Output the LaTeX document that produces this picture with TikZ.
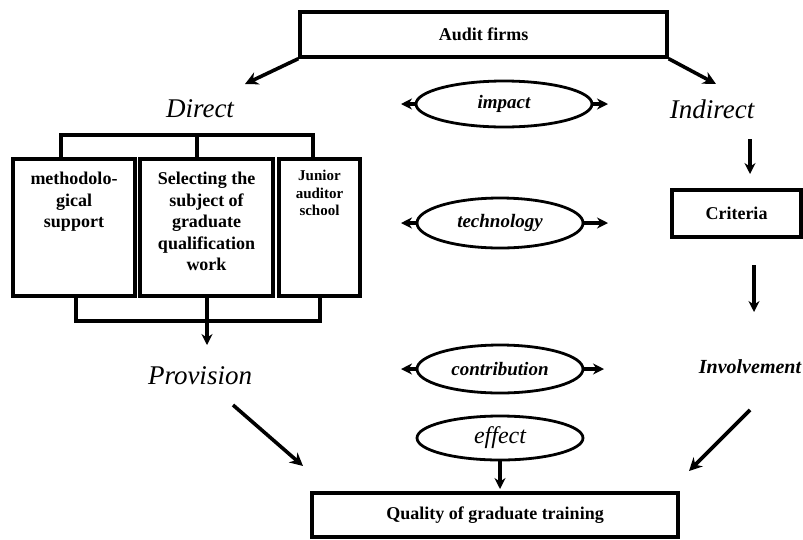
\documentclass[tikz,border=0pt]{standalone}
\usepackage{fontspec}
\setmainfont{Liberation Serif}
\usetikzlibrary{arrows.meta,shapes.geometric}
\begin{document}
\begin{tikzpicture}[x=1pt,y=-1pt,
  box/.style={draw,line width=3.4pt,inner sep=0pt,rectangle},
  oval/.style={draw,ellipse,line width=2.8pt,inner sep=0pt},
  arr/.style={line width=3.6pt,-{Stealth[length=13pt,width=13pt]}},
  sarr/.style={line width=3.2pt,-{Stealth[length=11pt,width=11pt]}},
  bk/.style={line width=3.6pt},
  big/.style={font=\fontsize{27}{30}\selectfont\itshape},
  lab/.style={font=\fontsize{18}{21}\selectfont\bfseries},
  olab/.style={font=\fontsize{19}{22}\selectfont\bfseries\itshape}]
\useasboundingbox (0,0) rectangle (803,539);

% top box
\node[box,lab,minimum width=367pt,minimum height=45pt] (audit) at (483.5,34.5) {Audit firms};
\coordinate (dtip) at (245,84);
\coordinate (itip) at (716,84);
\draw[arr] (audit.south west) -- (dtip);
\draw[arr] (audit.south east) -- (itip);

% Direct / Indirect
\node[big,anchor=base] (direct) at (200,117) {Direct};
\node[big,anchor=base] (indirect) at (712,118) {Indirect};

% ellipses
\node[oval,olab,minimum width=176pt,minimum height=46pt] (impact) at (504,104) {impact};
\node[oval,olab,minimum width=166pt,minimum height=50pt] (tech) at (500,223) {technology};
\node[oval,olab,minimum width=166pt,minimum height=48pt] (contr) at (500,369) {contribution};
\node[oval,minimum width=166pt,minimum height=44pt,font=\fontsize{24}{26}\selectfont\itshape] (effect) at (500,438) {effect};

\coordinate (impL) at (401,104); \coordinate (impR) at (608,104);
\coordinate (tecL) at (401,223); \coordinate (tecR) at (608,223);
\coordinate (conL) at (401,369); \coordinate (conR) at (604,369);
\draw[sarr] (impact.west) -- (impL);
\draw[sarr] (impact.east) -- (impR);
\draw[sarr] (tech.west) -- (tecL);
\draw[sarr] (tech.east) -- (tecR);
\draw[sarr] (contr.west) -- (conL);
\draw[sarr] (contr.east) -- (conR);

% three boxes
\node[box,minimum width=122pt,minimum height=137pt] (b1) at (74,227.5) {};
\node[box,minimum width=133pt,minimum height=137pt] (b2) at (206.5,227.5) {};
\node[box,minimum width=81pt,minimum height=137pt] (b3) at (319.5,227.5) {};
\node[anchor=north,inner sep=0pt,align=center,font=\fontsize{18}{21.5}\selectfont\bfseries] (t1) at (74,172) {methodolo-\\gical\\support};
\node[anchor=north,inner sep=0pt,align=center,font=\fontsize{18}{21.5}\selectfont\bfseries] (t2) at (206.5,172) {Selecting the\\subject of\\graduate\\qualification\\work};
\node[anchor=north,inner sep=0pt,align=center,font=\fontsize{15}{17.5}\selectfont\bfseries] (t3) at (319.5,170) {Junior\\auditor\\school};

% top bracket
\coordinate (tb) at (197,135);
\draw[bk] (b1.north -| 61,0) |- (tb) -| (b3.north -| 313,0);
\draw[bk] (tb) -- (b2.north -| 197,0);
% bottom bracket
\coordinate (bb) at (207,321);
\draw[bk] (b1.south -| 76,0) |- (bb) -| (b3.south -| 320,0);
\draw[bk] (b2.south -| 207,0) -- (bb);
\coordinate (bbtip) at (207,345);
\draw[sarr] (bb) -- (bbtip);

% Provision
\node[big,anchor=base] (prov) at (200,384) {Provision};

% right column
\coordinate (i1) at (750,139); \coordinate (i2) at (750,174);
\draw[sarr] (i1) -- (i2);
\node[box,lab,minimum width=129pt,minimum height=47pt] (crit) at (736.5,213.5) {Criteria};
\coordinate (c1) at (754,265); \coordinate (c2) at (754,312);
\draw[sarr] (c1) -- (c2);
\node[anchor=base,inner sep=0pt,font=\fontsize{20}{22}\selectfont\bfseries\itshape] (inv) at (750,373) {Involvement};

% bottom box
\node[box,lab,line width=4pt,minimum width=366pt,minimum height=44pt] (qual) at (495,515) {Quality of graduate training};
\coordinate (p1) at (233,405); \coordinate (p2) at (303,466);
\draw[arr] (p1) -- (p2);
\coordinate (v1) at (750,410); \coordinate (v2) at (689,471);
\draw[arr] (v1) -- (v2);
\coordinate (etip) at (500,489);
\draw[sarr] (effect.south) -- (etip);
\end{tikzpicture}
\end{document}
